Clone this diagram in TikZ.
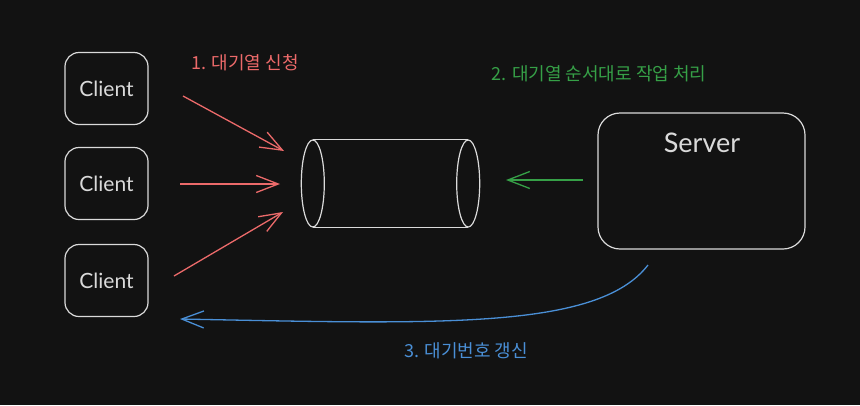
\documentclass[tikz,border=0pt]{standalone}
\usepackage{fontspec}
\setmainfont{Lato}
\newfontfamily\kr{Noto Sans CJK KR}
\usetikzlibrary{arrows.meta}
\definecolor{bg}{HTML}{121212}
\definecolor{ink}{HTML}{DADADA}
\definecolor{cred}{HTML}{EC6A6A}
\definecolor{cgreen}{HTML}{36A047}
\definecolor{cblue}{HTML}{4A8FD6}
\tikzset{
  box/.style={draw=ink, line width=1.2pt, rounded corners=14pt, minimum width=83pt, minimum height=72pt, inner sep=0pt},
  clienttext/.style={text=ink, font=\fontsize{21}{23}\selectfont},
  lbl/.style={font=\kr\fontsize{18}{20}\selectfont, inner sep=0pt},
  arr/.style={line width=1.3pt, -{Straight Barb[length=22pt,width=17pt]}},
}
\begin{document}
\begin{tikzpicture}[x=1pt,y=-1pt]
\fill[bg] (0,0) rectangle (860,405);
\useasboundingbox (0,0) rectangle (860,405);

% clients
\node[box] (c1) at (106.5,88.5) {};
\node[clienttext] (t1) at (c1) {Client};
\node[box] (c2) at (106.5,183.5) {};
\node[clienttext] (t2) at (c2) {Client};
\node[box] (c3) at (106.5,280.5) {};
\node[clienttext] (t3) at (c3) {Client};

% server
\node[draw=ink, line width=1.2pt, rounded corners=22pt, minimum width=207pt, minimum height=136pt, inner sep=0pt] (srv) at (701.5,181) {};
\node[text=ink, font=\fontsize{27}{29}\selectfont] (srvt) at (702,143) {Server};

% queue (cylinder)
\node[minimum width=155pt, minimum height=87pt, inner sep=0pt] (q) at (390.5,183.5) {};
\draw[ink, line width=1.2pt] (q.west) ellipse [x radius=11.5pt, y radius=43.5pt];
\draw[ink, line width=1.2pt] (q.east) ellipse [x radius=11.5pt, y radius=43.5pt];
\draw[ink, line width=1.2pt] (q.north west) -- (q.north east);
\draw[ink, line width=1.2pt] (q.south west) -- (q.south east);

% arrow coordinates
\coordinate (a1s) at (183,96);
\coordinate (a1e) at (284,151);
\coordinate (a2s) at (180,184);
\coordinate (a2e) at (280,184);
\coordinate (a3s) at (174,276);
\coordinate (a3e) at (283,212);
\coordinate (gs) at (583,180);
\coordinate (ge) at (506,180);
\coordinate (bs) at (648,265);
\coordinate (be) at (180,319);

\draw[arr, cred] (a1s) -- (a1e);
\draw[arr, cred] (a2s) -- (a2e);
\draw[arr, cred] (a3s) -- (a3e);
\draw[arr, cgreen] (gs) -- (ge);
\draw[arr, cblue] (bs) .. controls (598,330) and (440,324) .. (be);

% labels
\node[lbl, text=cred] (l1) at (245,63) {1. 대기열 신청};
\node[lbl, text=cgreen] (l2) at (599,74) {2. 대기열 순서대로 작업 처리};
\node[lbl, text=cblue] (l3) at (466,351) {3. 대기번호 갱신};
\end{tikzpicture}
\end{document}
